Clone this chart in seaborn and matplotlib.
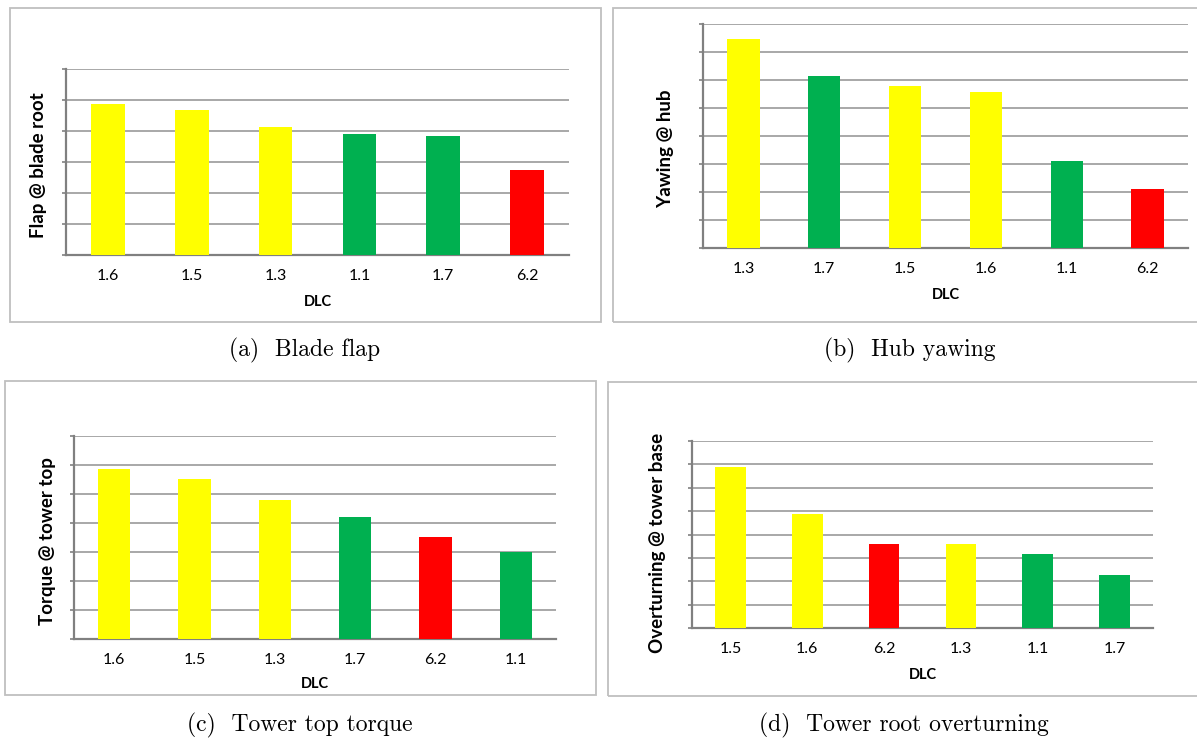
import matplotlib
matplotlib.use("Agg")
import matplotlib.pyplot as plt
from matplotlib.patches import Rectangle
import pandas as pd
import seaborn as sns

# bar colour classes: y = yellow, g = green, r = red
flap_dlc = ["1.6", "1.5", "1.3", "1.1", "1.7", "6.2"]
flap_vals = [4.87, 4.68, 4.13, 3.90, 3.84, 2.74]
flap_cls = ["y", "y", "y", "g", "g", "r"]

yaw_dlc = ["1.3", "1.7", "1.5", "1.6", "1.1", "6.2"]
yaw_vals = [7.46, 6.14, 5.79, 5.57, 3.11, 2.11]
yaw_cls = ["y", "g", "y", "y", "g", "r"]

torque_dlc = ["1.6", "1.5", "1.3", "1.7", "6.2", "1.1"]
torque_vals = [5.87, 5.53, 4.79, 4.22, 3.53, 3.01]
torque_cls = ["y", "y", "y", "g", "r", "g"]

overturn_dlc = ["1.5", "1.6", "6.2", "1.3", "1.1", "1.7"]
overturn_vals = [6.89, 4.86, 3.58, 3.58, 3.15, 2.25]
overturn_cls = ["y", "y", "r", "y", "g", "g"]

ylabels = ["Flap @ blade root", "Yawing @ hub", "Torque @ tower top", "Overturning @ tower base"]
captions = ["(a)  Blade flap", "(b)  Hub yawing", "(c)  Tower top torque", "(d)  Tower root overturning"]
ymax = [6, 8, 7, 8]

cls_colors = {"y": "#FFFF00", "g": "#00B050", "r": "#FF0000"}

W, H = 1197, 738
fig = plt.figure(figsize=(W / 100, H / 100), dpi=100)
fig.patch.set_facecolor("white")

# pixel layout: axes (l, r, t, b), box (l, r, t, b), ylabel (x, y), xlabel y, caption (x, y)
layout = [
    dict(ax=(66, 569, 69, 255), box=(10, 601, 8, 322), yl=(39, 165), xl=302, cap=(305, 350)),
    dict(ax=(703, 1188, 24, 248), box=(613, 1205, 8, 322), yl=(666, 149), xl=295, cap=(910, 350)),
    dict(ax=(74, 556, 436, 639), box=(5, 596, 381, 695), yl=(48, 541), xl=684, cap=(300, 725)),
    dict(ax=(692, 1153, 441, 628), box=(608, 1205, 382, 696), yl=(658, 543), xl=675, cap=(904, 725)),
]

datasets = [
    (flap_dlc, flap_vals, flap_cls),
    (yaw_dlc, yaw_vals, yaw_cls),
    (torque_dlc, torque_vals, torque_cls),
    (overturn_dlc, overturn_vals, overturn_cls),
]

for i, ((dlc, vals, cls), lay) in enumerate(zip(datasets, layout)):
    l, r, t, b = lay["ax"]
    ax = fig.add_axes([l / W, 1 - b / H, (r - l) / W, (b - t) / H])
    df = pd.DataFrame({"DLC": dlc, "val": vals, "cls": cls})
    pal = {d: cls_colors[c] for d, c in zip(dlc, cls)}
    sns.barplot(data=df, x="DLC", y="val", hue="DLC", order=dlc, palette=pal,
                legend=False, width=0.4, saturation=1, ax=ax, zorder=3)
    ax.set_ylim(0, ymax[i])
    ax.set_xlim(-0.5, len(dlc) - 0.5)
    ax.set_yticks(range(ymax[i] + 1))
    ax.set_yticklabels([])
    ax.yaxis.grid(True, color="#9a9a9a", linewidth=1.2, zorder=0)
    ax.set_axisbelow(True)
    for s in ["top", "right"]:
        ax.spines[s].set_visible(False)
    for s in ["left", "bottom"]:
        ax.spines[s].set_color("#808080")
        ax.spines[s].set_linewidth(1.6)
    ax.tick_params(axis="y", length=3, color="#808080", width=1.2)
    ax.tick_params(axis="x", length=0, pad=10, labelsize=11.5)
    for lab in ax.get_xticklabels():
        lab.set_fontfamily("Lato")
    ax.set_xlabel("DLC", fontsize=10.5, fontweight="bold", fontfamily="Lato")
    ax.xaxis.label.set_va("center")
    ax.xaxis.set_label_coords(0.5, (b - lay["xl"]) / (b - t))
    ax.set_ylabel(ylabels[i], fontsize=13.5, fontweight="bold", fontfamily="Lato")
    ax.yaxis.label.set_va("center")
    ax.yaxis.set_label_coords((lay["yl"][0] - l) / (r - l), (b - lay["yl"][1]) / (b - t))

    bl, br, bt, bb = lay["box"]
    fig.patches.append(Rectangle((bl / W, 1 - bb / H), (br - bl) / W, (bb - bt) / H,
                                 transform=fig.transFigure, fill=False,
                                 edgecolor="#bfbfbf", linewidth=1.3))
    fig.text(lay["cap"][0] / W, 1 - lay["cap"][1] / H, captions[i], ha="center", va="center",
             fontsize=17, fontfamily="cmr10")

plt.savefig("out.png", dpi=100)
